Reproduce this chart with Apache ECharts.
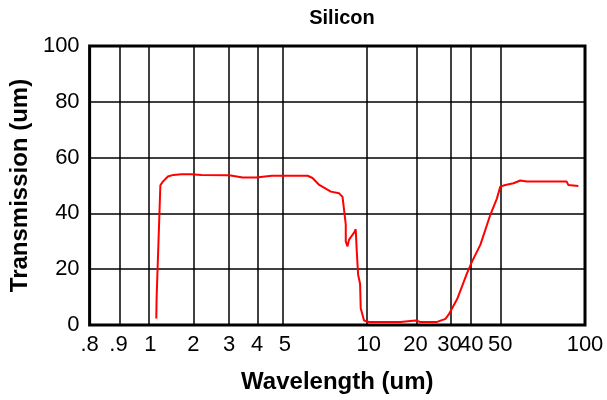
<!DOCTYPE html>
<html>
<head>
<meta charset="utf-8">
<script src="https://cdn.jsdelivr.net/npm/echarts@6/dist/echarts.min.js"></script>
<style>html,body{margin:0;padding:0;background:#fff}#c{width:607px;height:400px}</style>
</head>
<body>
<div id="c"></div>
<script>
// Tick labels of the (non-uniform, piecewise-log) wavelength axis
const tickLabels = ['.8', '.9', '1', '2', '3', '4', '5', '10', '20', '30', '40', '50', '100'];
const tickValues = [0.8, 0.9, 1, 2, 3, 4, 5, 10, 20, 30, 40, 50, 100];
// Relative position (0..1) of each tick along the axis
const tickStops = [0, 0.0584, 0.1227, 0.2093, 0.2817, 0.3380, 0.3944, 0.5634, 0.6579, 0.7264, 0.7706, 0.8290, 1];

// Series: wavelength (um) and transmission (%)
const wavelength = [1.10, 1.105, 1.13, 1.138, 1.162, 1.175, 1.223, 1.326, 1.45, 1.65, 1.94, 2.19, 3.0, 3.45, 3.96, 4.5, 5.0,
  6.03, 6.28, 6.64, 7.31, 7.83, 8.05, 8.16, 8.27, 8.27, 8.39, 8.50, 8.86, 8.98, 9.06, 9.16, 9.31, 9.36, 9.62,
  10.04, 13.5, 16.0, 20, 21.2, 25.9, 28.6, 29.75, 33.2, 37.8, 40.2, 42.9, 46.3, 48.7, 50, 52.1, 55.7, 58.9, 62.2,
  86.1, 87.2, 94.7];
const transmission = [2.3, 9.2, 9.2, 28.8, 29.5, 50.1, 51.4, 53.2, 53.8, 54.0, 54.0, 53.8, 53.7, 52.9, 52.9, 53.5, 53.5,
  53.5, 52.7, 50.2, 47.8, 47.2, 45.9, 41.0, 36.1, 30.0, 28.2, 30.6, 33.1, 34.3, 26.3, 18.0, 14.8, 6.0, 1.6,
  1.1, 1.1, 1.1, 1.6, 1.1, 1.1, 2.2, 3.8, 9.3, 18.6, 22.7, 28.8, 39.5, 45.3, 49.6, 50.2, 50.8, 51.8, 51.4,
  51.4, 50.2, 49.8];

// Piecewise-log scale: wavelength -> axis position
function toPos(w) {
  for (let i = 0; i < tickValues.length - 1; i++) {
    const a = tickValues[i], b = tickValues[i + 1];
    if (w <= b || i === tickValues.length - 2) {
      const t = Math.log(w / a) / Math.log(b / a);
      return tickStops[i] + t * (tickStops[i + 1] - tickStops[i]);
    }
  }
}

const chart = echarts.init(document.getElementById('c'), null, {renderer: 'canvas'});
const FONT = '"Liberation Sans", Arial, sans-serif';
chart.setOption({
  animation: false,
  backgroundColor: '#fff',
  title: {
    text: 'Silicon', left: 337, top: 3, textAlign: 'center',
    textStyle: {fontFamily: FONT, fontWeight: 'bold', fontSize: 20, color: '#000'}
  },
  grid: {left: 88, right: 22, top: 46, bottom: 75, show: true, borderColor: '#000', borderWidth: 3, backgroundColor: 'transparent'},
  xAxis: {
    type: 'value', min: 0, max: 1,
    name: 'Wavelength (um)', nameLocation: 'middle', nameGap: 45,
    nameTextStyle: {fontFamily: FONT, fontWeight: 'bold', fontSize: 24, color: '#000'},
    axisLine: {show: false}, axisTick: {show: false}, splitLine: {show: false},
    axisLabel: {
      customValues: tickStops, margin: 9, color: '#000', fontFamily: FONT, fontSize: 22,
      formatter: v => {
        let best = 0;
        for (let i = 0; i < tickStops.length; i++) if (Math.abs(tickStops[i] - v) < Math.abs(tickStops[best] - v)) best = i;
        return tickLabels[best];
      }
    }
  },
  yAxis: {
    type: 'value', min: 0, max: 100, interval: 20,
    name: 'Transmission (um)', nameLocation: 'middle', nameGap: 49, nameRotate: 90,
    nameTextStyle: {fontFamily: FONT, fontWeight: 'bold', fontSize: 24, color: '#000'},
    axisLine: {show: false}, axisTick: {show: false},
    splitLine: {show: true, lineStyle: {color: '#000', width: 1.5}},
    axisLabel: {margin: 10, color: '#000', fontFamily: FONT, fontSize: 22}
  },
  series: [{
    type: 'line',
    data: wavelength.map((w, i) => [toPos(w), transmission[i]]),
    showSymbol: false, symbol: 'none',
    lineStyle: {color: '#ff0000', width: 2},
    z: 5,
    markLine: {
      silent: true, symbol: ['none', 'none'], label: {show: false},
      lineStyle: {color: '#000', width: 1.5, type: 'solid'},
      data: tickStops.slice(1, -1).map(p => ({xAxis: p})),
      z: 1
    }
  }]
});
</script>
</body>
</html>
